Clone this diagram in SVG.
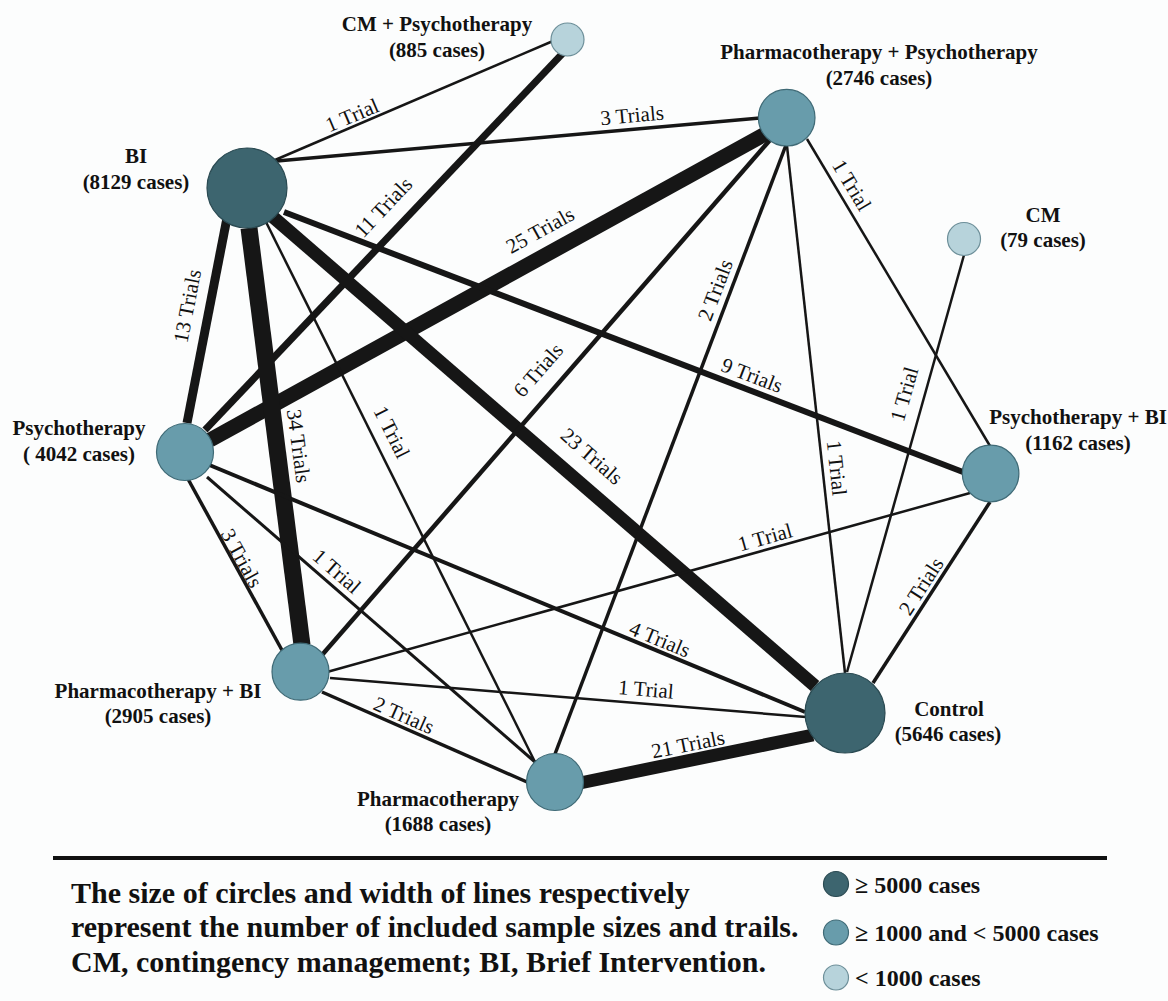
<svg xmlns="http://www.w3.org/2000/svg" width="1168" height="1001" viewBox="0 0 1168 1001">
<defs>
<style>
.e{stroke:#161616;fill:none;stroke-linecap:butt}
.tl{font-family:"Liberation Serif","Times New Roman",serif;font-size:21px;fill:#111;text-anchor:middle}
.nl{font-family:"Liberation Serif","Times New Roman",serif;font-size:21px;font-weight:bold;fill:#111;text-anchor:middle}
.big{fill:#3d656f;stroke:#2a4a52;stroke-width:1.2}
.mid{fill:#689cab;stroke:#3f6a76;stroke-width:1.2}
.sml{fill:#b7d3db;stroke:#6d8f99;stroke-width:1.2}
.lg{font-family:"Liberation Serif","Times New Roman",serif;font-size:30px;font-weight:bold;fill:#111}
.lk{font-family:"Liberation Serif","Times New Roman",serif;font-size:24px;font-weight:bold;fill:#111}
</style>
</defs>
<rect x="0" y="0" width="1168" height="1001" fill="#fcfdfd"/>
<g id="connectors">
<line class="e" x1="275" y1="160" x2="553" y2="41" stroke-width="2.5"/>
<line class="e" x1="277" y1="161" x2="760" y2="118" stroke-width="3.5"/>
<line class="e" x1="563" y1="53" x2="205" y2="430" stroke-width="7"/>
<line class="e" x1="210" y1="440" x2="767" y2="133" stroke-width="15"/>
<line class="e" x1="227" y1="218" x2="187" y2="423" stroke-width="9"/>
<line class="e" x1="249" y1="228" x2="302" y2="645" stroke-width="17"/>
<line class="e" x1="273" y1="217" x2="815" y2="686" stroke-width="13"/>
<line class="e" x1="284" y1="212" x2="963" y2="472" stroke-width="6"/>
<line class="e" x1="266" y1="222" x2="535" y2="762" stroke-width="2.5"/>
<line class="e" x1="770" y1="140" x2="322" y2="655" stroke-width="4.5"/>
<line class="e" x1="786" y1="145" x2="555" y2="754" stroke-width="3.5"/>
<line class="e" x1="787" y1="146" x2="845" y2="673" stroke-width="2.5"/>
<line class="e" x1="807" y1="139" x2="990" y2="446" stroke-width="2.5"/>
<line class="e" x1="964" y1="255" x2="847" y2="672" stroke-width="2.5"/>
<line class="e" x1="990" y1="502" x2="873" y2="683" stroke-width="3.5"/>
<line class="e" x1="970" y1="493" x2="327" y2="672" stroke-width="2.5"/>
<line class="e" x1="207" y1="464" x2="805" y2="712" stroke-width="4"/>
<line class="e" x1="188" y1="479" x2="283" y2="652" stroke-width="3.5"/>
<line class="e" x1="207" y1="477" x2="535" y2="762" stroke-width="3"/>
<line class="e" x1="330" y1="678" x2="806" y2="717" stroke-width="2.5"/>
<line class="e" x1="322" y1="692" x2="527" y2="782" stroke-width="3.5"/>
<line class="e" x1="580" y1="783" x2="813" y2="735" stroke-width="13"/>
<g id="connector-labels">
<text class="tl" transform="translate(352 115) rotate(-23)" dy="0.35em">1 Trial</text>
<text class="tl" transform="translate(632 115) rotate(-5.2)" dy="0.35em">3 Trials</text>
<text class="tl" transform="translate(383 207) rotate(-46.6)" dy="0.35em">11 Trials</text>
<text class="tl" transform="translate(540 230) rotate(-28.9)" dy="0.35em">25 Trials</text>
<text class="tl" transform="translate(187 306) rotate(-79)" dy="0.35em">13 Trials</text>
<text class="tl" transform="translate(299 446) rotate(82.5)" dy="0.35em">34 Trials</text>
<text class="tl" transform="translate(592 456) rotate(41)" dy="0.35em">23 Trials</text>
<text class="tl" transform="translate(752 375) rotate(21)" dy="0.35em">9 Trials</text>
<text class="tl" transform="translate(392 432) rotate(63.5)" dy="0.35em">1 Trial</text>
<text class="tl" transform="translate(538 370) rotate(-49)" dy="0.35em">6 Trials</text>
<text class="tl" transform="translate(715 290) rotate(-69.2)" dy="0.35em">2 Trials</text>
<text class="tl" transform="translate(837 468) rotate(83.7)" dy="0.35em">1 Trial</text>
<text class="tl" transform="translate(852 185) rotate(59.2)" dy="0.35em">1 Trial</text>
<text class="tl" transform="translate(904 394) rotate(-74)" dy="0.35em">1 Trial</text>
<text class="tl" transform="translate(921 586) rotate(-57)" dy="0.35em">2 Trials</text>
<text class="tl" transform="translate(765 537) rotate(-15.6)" dy="0.35em">1 Trial</text>
<text class="tl" transform="translate(660 639) rotate(22.5)" dy="0.35em">4 Trials</text>
<text class="tl" transform="translate(242 558) rotate(61.2)" dy="0.35em">3 Trials</text>
<text class="tl" transform="translate(337 571) rotate(41)" dy="0.35em">1 Trial</text>
<text class="tl" transform="translate(646 689) rotate(4.7)" dy="0.35em">1 Trial</text>
<text class="tl" transform="translate(404 715) rotate(23.7)" dy="0.35em">2 Trials</text>
<text class="tl" transform="translate(688 744) rotate(-11.4)" dy="0.35em">21 Trials</text>
</g>
</g>
<g id="node-cm-psychotherapy">
<circle class="sml" cx="567.5" cy="39.5" r="16.5"/>
<text class="nl" x="437" y="31">CM + Psychotherapy</text>
<text class="nl" x="437" y="57">(885 cases)</text>
</g>
<g id="node-bi">
<circle class="big" cx="247" cy="188" r="40"/>
<text class="nl" x="136" y="163">BI</text>
<text class="nl" x="136" y="189">(8129 cases)</text>
</g>
<g id="node-pharmacotherapy-psychotherapy">
<circle class="mid" cx="786.7" cy="117.7" r="28.3"/>
<text class="nl" x="879" y="59">Pharmacotherapy + Psychotherapy</text>
<text class="nl" x="879" y="85">(2746 cases)</text>
</g>
<g id="node-cm">
<circle class="sml" cx="964" cy="239" r="16.5"/>
<text class="nl" x="1043" y="222">CM</text>
<text class="nl" x="1043" y="247">(79 cases)</text>
</g>
<g id="node-psychotherapy">
<circle class="mid" cx="185" cy="452" r="28.5"/>
<text class="nl" x="79" y="435">Psychotherapy</text>
<text class="nl" x="79" y="461">( 4042 cases)</text>
</g>
<g id="node-psychotherapy-bi">
<circle class="mid" cx="990.6" cy="473.5" r="28.3"/>
<text class="nl" x="1078" y="424">Psychotherapy + BI</text>
<text class="nl" x="1078" y="450">(1162 cases)</text>
</g>
<g id="node-pharmacotherapy-bi">
<circle class="mid" cx="300.5" cy="671.7" r="28.5"/>
<text class="nl" x="158" y="698">Pharmacotherapy + BI</text>
<text class="nl" x="158" y="723">(2905 cases)</text>
</g>
<g id="node-control">
<circle class="big" cx="845" cy="713" r="40"/>
<text class="nl" x="949" y="716">Control</text>
<text class="nl" x="948" y="741">(5646 cases)</text>
</g>
<g id="node-pharmacotherapy">
<circle class="mid" cx="555" cy="782" r="28.5"/>
<text class="nl" x="438" y="806">Pharmacotherapy</text>
<text class="nl" x="438" y="831">(1688 cases)</text>
</g>
<g id="legend">
<line x1="53" y1="858" x2="1107" y2="858" stroke="#111" stroke-width="4"/>
<text class="lg" x="71" y="903">The size of circles and width of lines respectively</text>
<text class="lg" x="71" y="937">represent the number of included sample sizes and trails.</text>
<text class="lg" x="71" y="972">CM, contingency management; BI, Brief Intervention.</text>
<circle class="big" cx="836" cy="884" r="12.5"/>
<circle class="mid" cx="836" cy="932.5" r="12.5"/>
<circle class="sml" cx="836" cy="977.5" r="12.5"/>
<text class="lk" x="855" y="893">≥ 5000 cases</text>
<text class="lk" x="855" y="941">≥ 1000 and &lt; 5000 cases</text>
<text class="lk" x="855" y="986">&lt; 1000 cases</text>
</g>
</svg>
